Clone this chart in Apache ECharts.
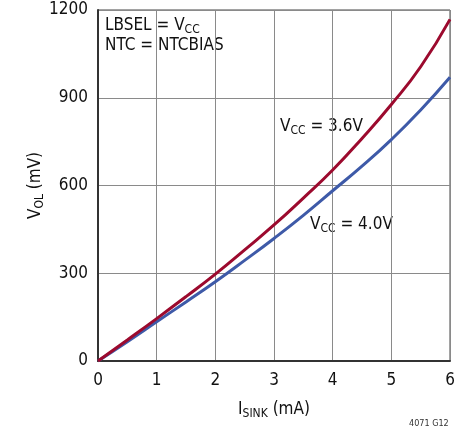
<!DOCTYPE html>
<html><head><meta charset="utf-8">
<script src="https://cdn.jsdelivr.net/npm/echarts@6/dist/echarts.min.js"></script>
<style>html,body{margin:0;padding:0;background:#fff}#c{width:468px;height:426px}</style>
</head><body><div id="c"></div>
<script>
var xValues = [0, 0.5, 1, 1.5, 2, 2.5, 3, 3.5, 4, 4.5, 5, 5.5, 6];
var vcc36 = [0, 72, 145, 220, 297, 380, 465, 557, 653, 761, 877, 1006, 1168];
var vcc40 = [0, 66, 134, 202, 271, 344, 419, 498, 582, 666, 757, 858, 970];
var xTicks = [0, 1, 2, 3, 4, 5, 6];
var yTicks = [0, 300, 600, 900, 1200];

var FONT = '"DejaVu Sans Condensed", "Liberation Sans Narrow", sans-serif';
var chart = echarts.init(document.getElementById('c'), null, {renderer: 'canvas'});
function pairs(ys) { return xValues.map(function (x, i) { return [x, ys[i]]; }); }
var sub = {fontSize: 12, fontFamily: FONT, color: '#111', padding: [8, 0, 0, 0]};
chart.setOption({
  animation: false,
  grid: {left: 98, right: 18, top: 10, bottom: 65, show: true, borderColor: '#444', borderWidth: 1},
  xAxis: {
    type: 'value', min: 0, max: 6, interval: 1,
    axisLine: {show: true, lineStyle: {color: '#333', width: 2}},
    axisTick: {show: false},
    splitLine: {show: true, lineStyle: {color: '#8a8a8a', width: 1}},
    axisLabel: {fontSize: 17, fontFamily: FONT, color: '#111', margin: 11, formatter: function (v) { return String(v); }},
    name: '{m|I}{s|SINK}{m| (mA)}', nameLocation: 'middle', nameGap: 39, nameMoveOverlap: false,
    nameTextStyle: {rich: {m: {fontSize: 17, fontFamily: FONT, color: '#111'}, s: sub}}
  },
  yAxis: {
    type: 'value', min: 0, max: 1200, interval: 300,
    axisLine: {show: true, lineStyle: {color: '#333', width: 2}},
    axisTick: {show: false},
    splitLine: {show: true, lineStyle: {color: '#8a8a8a', width: 1}},
    axisLabel: {fontSize: 17, fontFamily: FONT, color: '#111', margin: 10, formatter: function (v) { return String(v); }},
    name: '{m|V}{s|OL}{m| (mV)}', nameLocation: 'middle', nameGap: 52, nameRotate: 90, nameMoveOverlap: false,
    nameTextStyle: {rich: {m: {fontSize: 17, fontFamily: FONT, color: '#111'}, s: sub}}
  },
  series: [
    {type: 'line', data: pairs(vcc40), smooth: true, symbol: 'none', lineStyle: {color: '#3e5aa8', width: 3}},
    {type: 'line', data: pairs(vcc36), smooth: true, symbol: 'none', lineStyle: {color: '#9c0a2e', width: 3}}
  ],
  graphic: [
    {type: 'text', left: 105, top: 17, style: {text: '{m|LBSEL = V}{s|CC}\n{m|NTC = NTCBIAS}', rich: {m: {fontSize: 17, fontFamily: FONT, fill: '#111', lineHeight: 20}, s: {fontSize: 12, fontFamily: FONT, fill: '#111', padding: [8, 0, 0, 0]}}}},
    {type: 'text', left: 279, top: 116, style: {text: '{m|V}{s|CC}{m| = 3.6V}', backgroundColor: '#fff', padding: [1, 2, 1, 1], rich: {m: {fontSize: 17, fontFamily: FONT, fill: '#111'}, s: {fontSize: 12, fontFamily: FONT, fill: '#111', padding: [8, 0, 0, 0]}}}},
    {type: 'text', left: 309, top: 214, style: {text: '{m|V}{s|CC}{m| = 4.0V}', backgroundColor: '#fff', padding: [1, 2, 1, 1], rich: {m: {fontSize: 17, fontFamily: FONT, fill: '#111'}, s: {fontSize: 12, fontFamily: FONT, fill: '#111', padding: [8, 0, 0, 0]}}}},
    {type: 'text', left: 409, top: 419, style: {text: '4071 G12', fontSize: 9, fontFamily: FONT, fill: '#333'}}
  ]
});
</script></body></html>
